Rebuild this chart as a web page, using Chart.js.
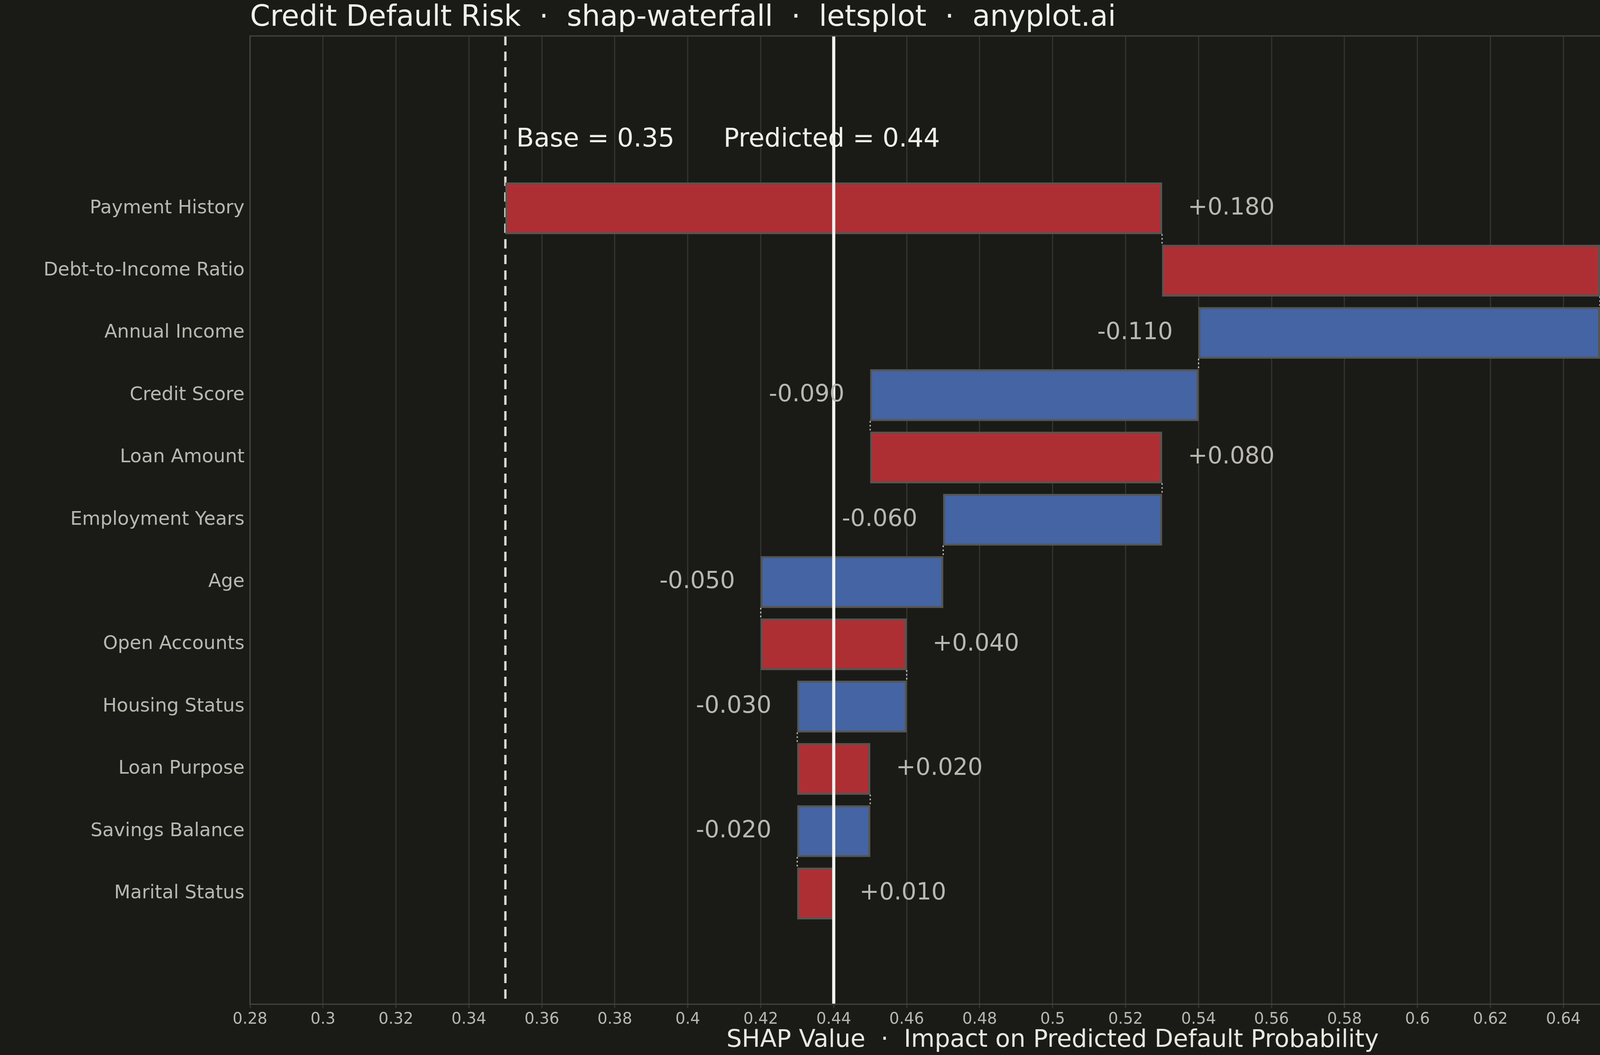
<!DOCTYPE html>
<html><head><meta charset="utf-8">
<script src="https://cdn.jsdelivr.net/npm/chart.js@4"></script>
<style>html,body{margin:0;padding:0;background:#1a1a17;overflow:hidden;}#c{display:block;width:4800px !important;height:2700px !important;}</style>
</head><body>
<canvas id="c" width="4800" height="2700"></canvas>
<script>
const features = ["Payment History","Debt-to-Income Ratio","Annual Income","Credit Score","Loan Amount","Employment Years","Age","Open Accounts","Housing Status","Loan Purpose","Savings Balance","Marital Status"];
const shapValues = [0.18,0.12,-0.11,-0.09,0.08,-0.06,-0.05,0.04,-0.03,0.02,-0.02,0.01];
const baseValue = 0.35;
const predictedValue = 0.44;
const xTicks = [0.28,0.3,0.32,0.34,0.36,0.38,0.4,0.42,0.44,0.46,0.48,0.5,0.52,0.54,0.56,0.58,0.6,0.62,0.64,0.66,0.68,0.7,0.72];

const RED="#ae2f33", BLUE="#4464a4";
let cum = baseValue;
const bars = shapValues.map((v,i)=>{const s=cum; cum=+(cum+v).toFixed(4); return {x:[Math.min(s,cum),Math.max(s,cum)], y:i, start:s, end:cum};});

const overlay = {
  id:'overlay',
  beforeDatasetsDraw(chart){
    const {ctx, chartArea:a, scales:{x,y}} = chart;
    ctx.save();
    ctx.strokeStyle="#d8d8d0"; ctx.lineWidth=6; ctx.setLineDash([24,16]);
    const bx=x.getPixelForValue(baseValue);
    ctx.beginPath(); ctx.moveTo(bx,a.top); ctx.lineTo(bx,a.bottom); ctx.stroke();
    ctx.setLineDash([]);
    ctx.strokeStyle="#cfcfc8"; ctx.lineWidth=3; ctx.setLineDash([4,6]);
    for(let i=0;i<bars.length-1;i++){
      const px=x.getPixelForValue(bars[i].end);
      ctx.beginPath(); ctx.moveTo(px,y.getPixelForValue(i)+66); ctx.lineTo(px,y.getPixelForValue(i+1)-66); ctx.stroke();
    }
    ctx.restore();
  },
  afterDatasetsDraw(chart){
    const {ctx, chartArea:a, scales:{x,y}} = chart;
    ctx.save();
    const px=x.getPixelForValue(predictedValue);
    ctx.strokeStyle="#f4f4f0"; ctx.lineWidth=8;
    ctx.beginPath(); ctx.moveTo(px,a.top); ctx.lineTo(px,a.bottom); ctx.stroke();
    ctx.font="60px 'DejaVu Sans'"; ctx.fillStyle="#b8b8b0"; ctx.textBaseline="middle";
    bars.forEach((b,i)=>{
      const v=shapValues[i], yy=y.getPixelForValue(i);
      const t=(v>0?"+":"")+v.toFixed(3);
      if(v>0){ctx.textAlign="left"; ctx.fillText(t,x.getPixelForValue(b.x[1])+66,yy);}
      else {ctx.textAlign="right"; ctx.fillText(t,x.getPixelForValue(b.x[0])-66,yy);}
    });
    ctx.fillStyle="#f0f0ea"; ctx.font="66px 'DejaVu Sans'"; ctx.textAlign="left";
    const ay=y.getPixelForValue(-1.1);
    ctx.fillText("Base = "+baseValue.toFixed(2), x.getPixelForValue(baseValue)+28, ay);
    ctx.fillText("Predicted = "+predictedValue.toFixed(2), x.getPixelForValue(0.41)-2, ay);
    ctx.font="74px 'DejaVu Sans'"; ctx.fillStyle="#f0f0ea"; ctx.textBaseline="alphabetic";
    ctx.fillText("Credit Default Risk  ·  shap-waterfall  ·  letsplot  ·  anyplot.ai", a.left, 66);
    ctx.strokeStyle="#444440"; ctx.lineWidth=3; ctx.strokeRect(a.left,a.top,a.right-a.left+10,a.bottom-a.top);
    ctx.restore();
  }
};

new Chart(document.getElementById('c'),{
  type:'bar',
  data:{datasets:[{
    data:bars,
    backgroundColor:shapValues.map(v=>v>0?RED:BLUE),
    borderColor:"#555552", borderWidth:5, borderSkipped:false,
    barThickness:132
  }]},
  options:{
    indexAxis:'y', responsive:false, animation:false, devicePixelRatio:1,
    layout:{padding:{top:92,left:0,right:0,bottom:0}},
    plugins:{legend:{display:false},tooltip:{enabled:false}},
    scales:{
      x:{type:'linear',min:0.28,max:0.72,
        afterBuildTicks(s){s.ticks=xTicks.map(v=>({value:v}));},
        afterFit(s){s.height=130;},
        grid:{color:"#33332f",lineWidth:3,drawTicks:true,tickLength:10},
        border:{display:false},
        ticks:{color:"#b8b8b0",font:{size:40,family:"DejaVu Sans"},maxRotation:0,autoSkip:false,padding:6,
          callback:v=>String(+v.toFixed(2))},
        title:{display:true,text:"SHAP Value  ·  Impact on Predicted Default Probability",color:"#e8e8e0",font:{size:62,family:"DejaVu Sans"},padding:{top:0,bottom:0}}
      },
      y:{type:'linear',reverse:true,min:-2.12,max:12.13,
        afterBuildTicks(s){s.ticks=features.map((f,i)=>({value:i}));},
        afterFit(s){s.width=640;},
        grid:{display:false}, border:{display:false},
        ticks:{color:"#b8b8b0",font:{size:48,family:"DejaVu Sans"},autoSkip:false,padding:6,
          callback:(v)=>features[v]}
      }
    }
  },
  plugins:[overlay]
});
</script>
</body></html>
